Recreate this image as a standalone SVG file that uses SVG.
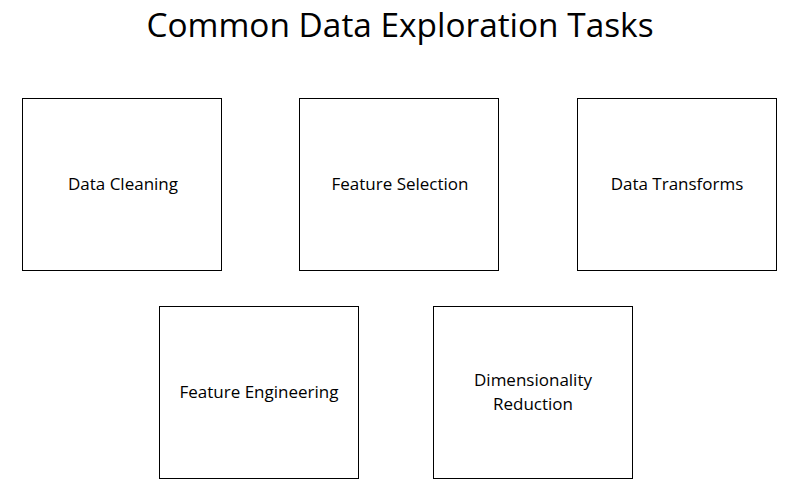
<svg xmlns="http://www.w3.org/2000/svg" width="801" height="493" viewBox="0 0 801 493">
<style>
.box{fill:#fff;stroke:#000;stroke-width:1}
.lbl{font-family:"Open Sans","Liberation Sans",sans-serif;font-size:17px;fill:#000;text-anchor:middle}
.title{font-family:"Open Sans","Liberation Sans",sans-serif;font-size:33.4px;fill:#000;text-anchor:middle}
</style>
<rect width="801" height="493" fill="#fff"/>
<text class="title" x="400" y="37">Common Data Exploration Tasks</text>
<g id="connectors"></g>
<g id="data-cleaning"><rect class="box" x="22.5" y="98.5" width="199" height="172"/><text class="lbl" x="123" y="190">Data Cleaning</text></g>
<g id="feature-selection"><rect class="box" x="299.5" y="98.5" width="199" height="172"/><text class="lbl" x="400" y="190">Feature Selection</text></g>
<g id="data-transforms"><rect class="box" x="577.5" y="98.5" width="199" height="172"/><text class="lbl" x="677" y="190">Data Transforms</text></g>
<g id="feature-engineering"><rect class="box" x="159.5" y="306.5" width="199" height="172"/><text class="lbl" x="259" y="398">Feature Engineering</text></g>
<g id="dimensionality-reduction"><rect class="box" x="433.5" y="306.5" width="199" height="172"/><text class="lbl" x="533" y="386">Dimensionality</text><text class="lbl" x="533" y="410">Reduction</text></g>
</svg>
